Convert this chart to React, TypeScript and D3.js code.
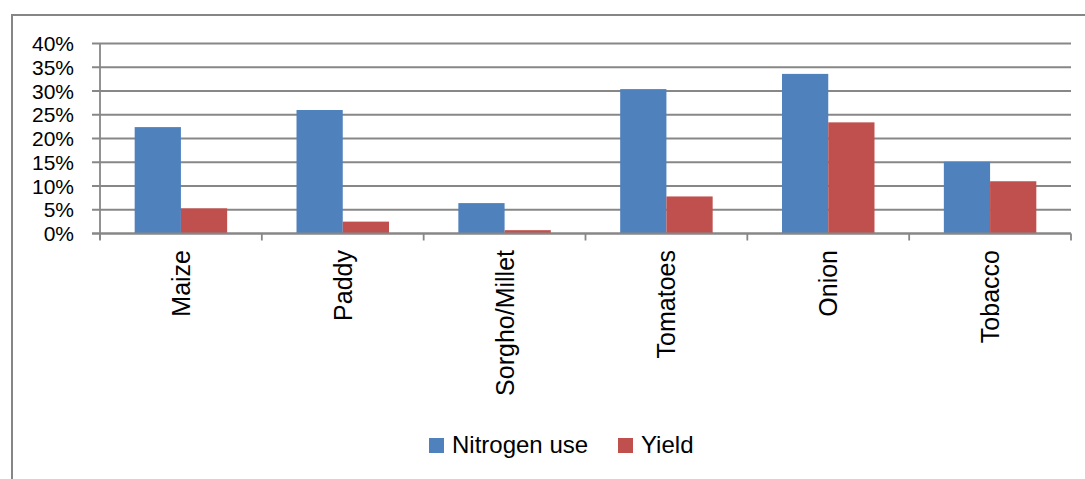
import * as d3 from "d3";
import React from "react";

const crops = ["Maize", "Paddy", "Sorgho/Millet", "Tomatoes", "Onion", "Tobacco"];
const nitrogenUse = [0.224, 0.26, 0.064, 0.304, 0.336, 0.151];
const yieldGain = [0.053, 0.025, 0.007, 0.078, 0.234, 0.11];
const seriesNames = ["Nitrogen use", "Yield"];
const seriesColors = ["#4F81BD", "#C0504D"];
const yTicks = [0, 0.05, 0.1, 0.15, 0.2, 0.25, 0.3, 0.35, 0.4];

const W = 1085;
const H = 479;
const plot = { left: 100, right: 1071, top: 43.5, bottom: 233.5 };
const grid = "#878787";
const font = "'Liberation Sans', Arial, sans-serif";

const App: React.FC = () => {
  const x = d3.scaleBand<string>().domain(crops).range([plot.left, plot.right]);
  const y = d3.scaleLinear().domain([0, 0.4]).range([plot.bottom, plot.top]);
  // Excel gap width 150%: two bars take 2/(2+1.5) of the band
  const barW = x.bandwidth() / 3.5;
  const offset = x.bandwidth() * 0.75 / 3.5;
  const series = [nitrogenUse, yieldGain];
  const fmt = d3.format(".0%");

  return (
    <svg
      width={W}
      height={H}
      style={{ position: "absolute", left: 0, top: 0, background: "#fff" }}
    >
      <rect x={12} y={15} width={1090} height={480} fill="#fff" stroke="#868686" strokeWidth={2} />

      {/* gridlines + y ticks */}
      {yTicks.map((t) => (
        <g key={t}>
          <line x1={plot.left - 8} x2={plot.right} y1={y(t)} y2={y(t)} stroke={grid} strokeWidth={1.8} />
          <text
            x={74}
            y={y(t)}
            dy="0.36em"
            textAnchor="end"
            fontFamily={font}
            fontSize={21}
            fill="#000"
          >
            {fmt(t)}
          </text>
        </g>
      ))}

      {/* bars */}
      {series.map((vals, si) =>
        crops.map((c, i) => (
          <rect
            key={si + c}
            x={(x(c) as number) + offset + si * barW}
            y={y(vals[i])}
            width={barW}
            height={plot.bottom - y(vals[i])}
            fill={seriesColors[si]}
          />
        ))
      )}

      {/* axes */}
      <line x1={plot.left} x2={plot.left} y1={plot.top} y2={plot.bottom + 6} stroke={grid} strokeWidth={1.8} />
      <line x1={plot.left - 8} x2={plot.right} y1={plot.bottom} y2={plot.bottom} stroke={grid} strokeWidth={1.8} />
      {crops.concat([""]).map((c, i) => {
        const xx = plot.left + i * x.step();
        return (
          <line key={"t" + i} x1={xx} x2={xx} y1={plot.bottom} y2={plot.bottom + 7} stroke={grid} strokeWidth={1.8} />
        );
      })}

      {/* category labels */}
      {crops.map((c) => {
        const cx = (x(c) as number) + x.bandwidth() / 2;
        return (
          <text
            key={"l" + c}
            transform={`translate(${cx},250) rotate(-90)`}
            dy="0.36em"
            textAnchor="end"
            fontFamily={font}
            fontSize={25}
            fill="#000"
          >
            {c}
          </text>
        );
      })}

      {/* legend */}
      <rect x={429} y={438} width={15} height={15} fill={seriesColors[0]} />
      <text x={452} y={453} fontFamily={font} fontSize={24} fill="#000">
        {seriesNames[0]}
      </text>
      <rect x={618} y={438} width={15} height={15} fill={seriesColors[1]} />
      <text x={641} y={453} fontFamily={font} fontSize={24} fill="#000">
        {seriesNames[1]}
      </text>
    </svg>
  );
};

export default App;
